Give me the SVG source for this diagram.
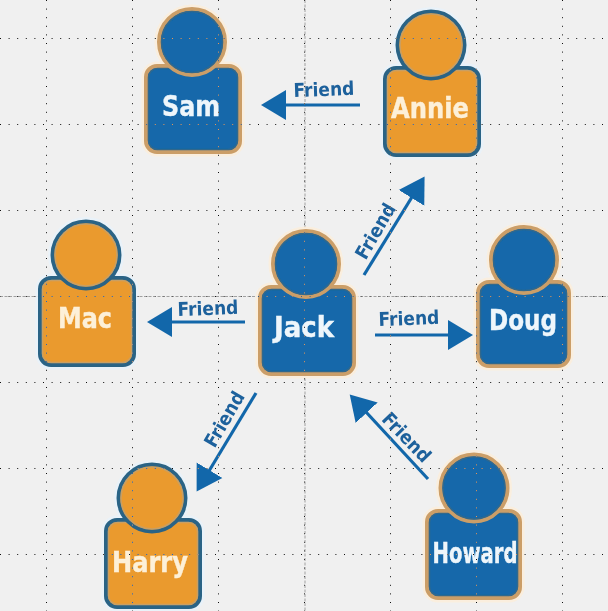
<svg xmlns="http://www.w3.org/2000/svg" width="608" height="611" viewBox="0 0 608 611">
<style>
.bg{fill:#f0f0f0}
.dots{stroke:#fff;stroke-width:1;stroke-dasharray:1 7.6;fill:none;mix-blend-mode:difference}
.axis{stroke:#a0a0a0;stroke-width:1;stroke-dasharray:3 1.5;fill:none}
.halo{fill:none;stroke-width:9;stroke-opacity:.9}
.blue .halo{stroke:#fbeedb}
.orange .halo{stroke:#e9f2fa}
.shape{stroke-width:4}
.inner{fill:none;stroke-width:1.6}
.blue .shape{fill:#1267aa;stroke:#cb9e68}
.blue .inner{stroke:#33688c}
.orange .shape{fill:#ea9a2f;stroke:#2c6485}
.orange .inner{stroke:#c99f63}
.name{font-family:"DejaVu Sans Condensed","DejaVu Sans",sans-serif;font-stretch:condensed;font-weight:700;font-size:29px;text-anchor:middle;stroke-width:.4}
.blue .name{fill:#eef6fb;stroke:#eef6fb}
.orange .name{fill:#fdf0d8;stroke:#fdf0d8}
.node{filter:url(#soft)}
.link{stroke:#1267aa;stroke-width:3.2;fill:none;marker-end:url(#head)}
.lbl{font-family:"DejaVu Sans Condensed","DejaVu Sans",sans-serif;font-stretch:condensed;font-weight:700;font-size:19px;fill:#1d619c;text-anchor:middle}
</style>
<defs>
<filter id="soft" x="-10%" y="-10%" width="120%" height="120%"><feGaussianBlur stdDeviation="0.6"/></filter>
<marker id="head" markerUnits="userSpaceOnUse" markerWidth="26" markerHeight="32" viewBox="0 0 26 32" refX="1" refY="16" orient="auto"><path d="M0 1L25 16L0 31Z" fill="#1267aa"/></marker>
</defs>
<rect class="bg" width="608" height="611"/>
<path id="axes" class="axis" d="M305 0V611M0 296.500H608"/>
<g id="connectors">
<path id="annie-sam" class="link" d="M360 105H285"/>
<path id="jack-annie" class="link" d="M364 275L412 197"/>
<path id="jack-mac" class="link" d="M245 322H171"/>
<path id="jack-doug" class="link" d="M375 335H449"/>
<path id="jack-harry" class="link" d="M256 393L209 471"/>
<path id="howard-jack" class="link" d="M428 479L366 412"/>
</g>
<g id="labels">
<text class="lbl" x="324" y="96" transform="rotate(-2 324 89)">Friend</text>
<text class="lbl" x="208" y="315" transform="rotate(-2 208 308)">Friend</text>
<text class="lbl" x="409" y="325" transform="rotate(-2 409 318)">Friend</text>
<text class="lbl" x="375" y="238" transform="rotate(-60 375 231)">Friend</text>
<text class="lbl" x="224" y="426" transform="rotate(-60 224 419)">Friend</text>
<text class="lbl" x="407" y="444" transform="rotate(46 407 437)">Friend</text>
</g>
<g id="sam" class="node blue">
<rect class="halo" x="146" y="66" width="94" height="86" rx="11"/><circle class="halo" cx="192" cy="42" r="33"/>
<rect class="shape" x="146" y="66" width="94" height="86" rx="11"/><rect class="inner" x="148.500" y="68.500" width="89" height="81" rx="9"/>
<circle class="shape" cx="192" cy="42" r="33"/><circle class="inner" cx="192" cy="42" r="30.500"/>
<text class="name" x="191" y="116" textLength="58" lengthAdjust="spacingAndGlyphs">Sam</text>
</g>
<g id="annie" class="node orange">
<rect class="halo" x="385" y="68" width="94" height="87" rx="11"/><circle class="halo" cx="431" cy="45" r="33.500"/>
<rect class="shape" x="385" y="68" width="94" height="87" rx="11"/><rect class="inner" x="387.500" y="70.500" width="89" height="82" rx="9"/>
<circle class="shape" cx="431" cy="45" r="33.500"/><circle class="inner" cx="431" cy="45" r="31"/>
<text class="name" x="430" y="118" textLength="78" lengthAdjust="spacingAndGlyphs">Annie</text>
</g>
<g id="mac" class="node orange">
<rect class="halo" x="40" y="278" width="94" height="87" rx="11"/><circle class="halo" cx="86" cy="255" r="33.500"/>
<rect class="shape" x="40" y="278" width="94" height="87" rx="11"/><rect class="inner" x="42.500" y="280.500" width="89" height="82" rx="9"/>
<circle class="shape" cx="86" cy="255" r="33.500"/><circle class="inner" cx="86" cy="255" r="31"/>
<text class="name" x="85" y="328" textLength="54" lengthAdjust="spacingAndGlyphs">Mac</text>
</g>
<g id="jack" class="node blue">
<rect class="halo" x="260" y="287" width="94" height="87" rx="11"/><circle class="halo" cx="306" cy="264" r="33"/>
<rect class="shape" x="260" y="287" width="94" height="87" rx="11"/><rect class="inner" x="262.500" y="289.500" width="89" height="82" rx="9"/>
<circle class="shape" cx="306" cy="264" r="33"/><circle class="inner" cx="306" cy="264" r="30.500"/>
<text class="name" x="304" y="337" textLength="60" lengthAdjust="spacingAndGlyphs">Jack</text>
</g>
<g id="doug" class="node blue">
<rect class="halo" x="478" y="282" width="91" height="84" rx="11"/><circle class="halo" cx="524" cy="260" r="33"/>
<rect class="shape" x="478" y="282" width="91" height="84" rx="11"/><rect class="inner" x="480.500" y="284.500" width="86" height="79" rx="9"/>
<circle class="shape" cx="524" cy="260" r="33"/><circle class="inner" cx="524" cy="260" r="30.500"/>
<text class="name" x="523" y="330" textLength="68" lengthAdjust="spacingAndGlyphs">Doug</text>
</g>
<g id="howard" class="node blue">
<rect class="halo" x="427" y="511" width="93" height="87" rx="11"/><circle class="halo" cx="474" cy="488" r="33.500"/>
<rect class="shape" x="427" y="511" width="93" height="87" rx="11"/><rect class="inner" x="429.500" y="513.500" width="88" height="82" rx="9"/>
<circle class="shape" cx="474" cy="488" r="33.500"/><circle class="inner" cx="474" cy="488" r="31"/>
<text class="name" x="475" y="563" textLength="85" lengthAdjust="spacingAndGlyphs">Howard</text>
</g>
<g id="harry" class="node orange">
<rect class="halo" x="106" y="520" width="94" height="87" rx="11"/><circle class="halo" cx="152" cy="498" r="33.500"/>
<rect class="shape" x="106" y="520" width="94" height="87" rx="11"/><rect class="inner" x="108.500" y="522.500" width="89" height="82" rx="9"/>
<circle class="shape" cx="152" cy="498" r="33.500"/><circle class="inner" cx="152" cy="498" r="31"/>
<text class="name" x="150" y="572" textLength="76" lengthAdjust="spacingAndGlyphs">Harry</text>
</g>
<path id="grid" class="dots" d="M46.500 0V611M132.500 0V611M218.500 0V611M304.500 0V611M390.500 0V611M476.500 0V611M562.500 0V611M0 38.500H608M0 124.500H608M0 210.500H608M0 296.500H608M0 382.500H608M0 468.500H608M0 554.500H608"/>
</svg>
